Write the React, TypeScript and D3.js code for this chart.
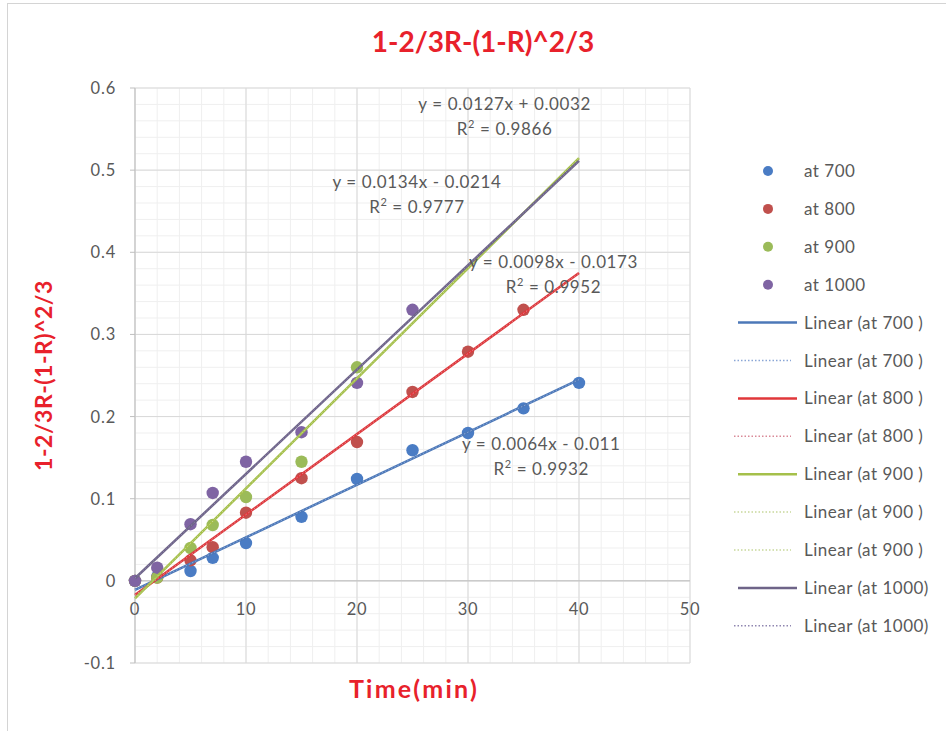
import React from "react";
import * as d3 from "d3";

// Reaction time (min) and conversion function values per temperature
const time700 = [0, 2, 5, 7, 10, 15, 20, 25, 30, 35, 40];
const at700 = [0, 0.005, 0.012, 0.028, 0.046, 0.078, 0.124, 0.159, 0.18, 0.21, 0.241];
const time800 = [0, 2, 5, 7, 10, 15, 20, 25, 30, 35];
const at800 = [0, 0.004, 0.025, 0.041, 0.083, 0.125, 0.169, 0.23, 0.279, 0.33];
const time900 = [0, 2, 5, 7, 10, 15, 20];
const at900 = [0, 0.004, 0.04, 0.068, 0.102, 0.145, 0.26];
const time1000 = [0, 2, 5, 7, 10, 15, 20, 25];
const at1000 = [0, 0.016, 0.069, 0.107, 0.145, 0.181, 0.241, 0.33];

const seriesNames = ["at 700", "at 800", "at 900", "at 1000"];
const slopes = [0.0064, 0.0098, 0.0134, 0.0127];
const intercepts = [-0.011, -0.0173, -0.0214, 0.0032];
const rSquared = ["0.9932", "0.9952", "0.9777", "0.9866"];
const equationTexts = [
  "y = 0.0064x - 0.011",
  "y = 0.0098x - 0.0173",
  "y = 0.0134x - 0.0214",
  "y = 0.0127x + 0.0032",
];
const trendRange = [0, 40];
const xTicks = [0, 10, 20, 30, 40, 50];
const yTicks = [-0.1, 0, 0.1, 0.2, 0.3, 0.4, 0.5, 0.6];
const yTickLabels = ["-0.1", "0", "0.1", "0.2", "0.3", "0.4", "0.5", "0.6"];

const legendEntries = [
  { label: "at 700", kind: "dot", s: 0 },
  { label: "at 800", kind: "dot", s: 1 },
  { label: "at 900", kind: "dot", s: 2 },
  { label: "at 1000", kind: "dot", s: 3 },
  { label: "Linear (at 700 )", kind: "solid", s: 0 },
  { label: "Linear (at 700 )", kind: "dotted", s: 0 },
  { label: "Linear (at 800 )", kind: "solid", s: 1 },
  { label: "Linear (at 800 )", kind: "dotted", s: 1 },
  { label: "Linear (at 900 )", kind: "solid", s: 2 },
  { label: "Linear (at 900 )", kind: "dotted", s: 2 },
  { label: "Linear (at 900 )", kind: "dotted", s: 2 },
  { label: "Linear (at 1000)", kind: "solid", s: 3 },
  { label: "Linear (at 1000)", kind: "dotted", s: 3 },
];

const pointColors = ["#4a7cc4", "#c0504d", "#9bbb59", "#7f64a3"];
const lineColors = ["#4c78b8", "#e0373a", "#a5c04a", "#6e6488"];
const dottedColors = ["#8aa6d6", "#d98a98", "#c8d89a", "#8f86b0"];

const FONT = "Lato, 'Open Sans', sans-serif";
const TXT = "#595959";
const RED = "#e8212b";

export default function App() {
  const W = 946;
  const H = 731;
  const x = d3.scaleLinear().domain([0, 50]).range([135, 690]);
  const y = d3.scaleLinear().domain([-0.1, 0.6]).range([663, 88]);

  const times = [time700, time800, time900, time1000];
  const vals = [at700, at800, at900, at1000];

  const minorX = d3.range(0, 50.001, 2);
  const minorY = d3.range(-0.1, 0.6001, 0.02);

  const trend = (i: number) =>
    d3
      .line<number>()
      .x((t) => x(t))
      .y((t) => y(slopes[i] * t + intercepts[i]))(trendRange) as string;

  // Equation label anchors in data coordinates (first line baseline)
  const eqPos: [number, number][] = [
    [36.6, 0.1594],
    [37.7, 0.381],
    [25.4, 0.4784],
    [33.3, 0.5734],
  ];

  return (
    <svg
      width={W}
      height={H}
      style={{ position: "absolute", left: 0, top: 0, background: "#fff" }}
      fontFamily={FONT}
    >
      <rect x={7.5} y={3.5} width={W + 10} height={H + 10} fill="#fff" stroke="#d4d4d4" />

      {/* minor grid */}
      {minorX.map((v) => (
        <line key={"mx" + v} x1={x(v)} x2={x(v)} y1={y(0.6)} y2={y(-0.1)} stroke="#efefef" />
      ))}
      {minorY.map((v, i) => (
        <line key={"my" + i} x1={x(0)} x2={x(50)} y1={y(v)} y2={y(v)} stroke="#efefef" />
      ))}
      {/* major grid */}
      {xTicks.map((v) => (
        <line key={"gx" + v} x1={x(v)} x2={x(v)} y1={y(0.6)} y2={y(-0.1)} stroke="#d9d9d9" />
      ))}
      {yTicks.map((v) => (
        <line key={"gy" + v} x1={x(0)} x2={x(50)} y1={y(v)} y2={y(v)} stroke="#d9d9d9" />
      ))}
      <line x1={x(0)} x2={x(0)} y1={y(0.6)} y2={y(-0.1)} stroke="#bfbfbf" />
      <line x1={x(0)} x2={x(50)} y1={y(0)} y2={y(0)} stroke="#bfbfbf" />
      {yTicks.map((v) => (
        <line key={"tk" + v} x1={x(0) - 5} x2={x(0)} y1={y(v)} y2={y(v)} stroke="#bfbfbf" />
      ))}

      {/* tick labels */}
      {yTicks.map((v, i) => (
        <text
          key={"yl" + v}
          x={116}
          y={y(v) + 6}
          textAnchor="end"
          fontSize={16.5}
          letterSpacing={0.8}
          fill={TXT}
        >
          {yTickLabels[i]}
        </text>
      ))}
      {xTicks.map((v) => (
        <text
          key={"xl" + v}
          x={x(v)}
          y={y(0) + 34}
          textAnchor="middle"
          fontSize={16.5}
          letterSpacing={0.8}
          fill={TXT}
        >
          {v}
        </text>
      ))}

      {/* points */}
      {vals.map((vs, i) =>
        vs.map((v, j) => (
          <circle key={`p${i}-${j}`} cx={x(times[i][j])} cy={y(v)} r={6.2} fill={pointColors[i]} />
        ))
      )}

      {/* trendlines */}
      {seriesNames.map((_, i) => (
        <g key={"tr" + i}>
          <path d={trend(i)} stroke={lineColors[i]} strokeWidth={2.5} fill="none" />
          <path
            d={trend(i)}
            stroke={dottedColors[i]}
            strokeWidth={1}
            strokeDasharray="1.5 2"
            fill="none"
          />
        </g>
      ))}

      {/* trendline equations */}
      {eqPos.map(([ex, ey], i) => (
        <g key={"eq" + i} fontSize={17} letterSpacing={0.6} fill={TXT} textAnchor="middle">
          <text x={x(ex)} y={y(ey)}>
            {equationTexts[i]}
          </text>
          <text x={x(ex)} y={y(ey) + 25}>
            R<tspan dy={-7} fontSize={11}>2</tspan>
            <tspan dy={7}> = {rSquared[i]}</tspan>
          </text>
        </g>
      ))}

      {/* titles */}
      <text x={483} y={52} textAnchor="middle" fontSize={28} fontWeight="bold" fill={RED}>
        1-2/3R-(1-R)^2/3
      </text>
      <text
        transform={`translate(52, ${y(0.25)}) rotate(-90)`}
        textAnchor="middle"
        fontSize={23}
        letterSpacing={0.5}
        fontWeight="bold"
        fill={RED}
      >
        1-2/3R-(1-R)^2/3
      </text>
      <text
        x={414}
        y={698}
        textAnchor="middle"
        fontSize={25}
        letterSpacing={2.2}
        fontWeight="bold"
        fill={RED}
      >
        Time(min)
      </text>

      {/* legend */}
      {legendEntries.map((e, k) => {
        const ly = 171 + k * 37.9;
        return (
          <g key={"lg" + k}>
            {e.kind === "dot" && <circle cx={768} cy={ly} r={5} fill={pointColors[e.s]} />}
            {e.kind === "solid" && (
              <line x1={738} x2={797} y1={ly} y2={ly} stroke={lineColors[e.s]} strokeWidth={2.5} />
            )}
            {e.kind === "dotted" && (
              <line
                x1={734}
                x2={791}
                y1={ly}
                y2={ly}
                stroke={dottedColors[e.s]}
                strokeWidth={1.5}
                strokeDasharray="1.5 2"
              />
            )}
            <text
              x={804}
              y={ly + 6}
              fontSize={17}
              letterSpacing={0.5}
              fill={TXT}
            >
              {e.label}
            </text>
          </g>
        );
      })}
    </svg>
  );
}
